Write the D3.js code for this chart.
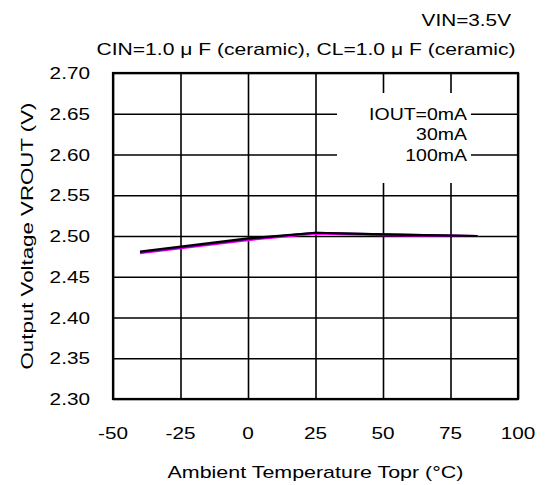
<!DOCTYPE html>
<html>
<head>
<meta charset="utf-8">
<script src="https://cdn.jsdelivr.net/npm/d3@7"></script>
<style>
  body { margin: 0; background: #fff; }
  text { font-family: "Liberation Sans", Arial, sans-serif; fill: #000; }
</style>
</head>
<body>
<div class="chart"></div>
<script>
// temperature points (°C)
var temps = [-40, 0, 25, 50, 85];
// output voltage per load current
var vout0 = [2.481, 2.497, 2.504, 2.502, 2.500];
var vout30 = [2.480, 2.496, 2.504, 2.502, 2.500];
var vout100 = [2.479, 2.495, 2.503, 2.501, 2.500];
var series = [
  { name: '100mA', values: vout100, color: '#ff00ff' },
  { name: '30mA', values: vout30, color: '#660099' },
  { name: 'IOUT=0mA', values: vout0, color: '#000000' }
];
var xTicks = [-50, -25, 0, 25, 50, 75, 100];
var yTicks = [2.30, 2.35, 2.40, 2.45, 2.50, 2.55, 2.60, 2.65, 2.70];
var legendLabels = ['IOUT=0mA', '30mA', '100mA'];

var W = 546, H = 485;
var m = { left: 113, right: 28, top: 73, bottom: 86 };

// the original lettering is wide, so stretch each text horizontally
function stretch(sel, k) {
  sel.each(function() {
    var w = this.getComputedTextLength();
    d3.select(this)
      .attr('textLength', w * k)
      .attr('lengthAdjust', 'spacingAndGlyphs');
  });
}

var svg = d3.select('.chart')
  .append('svg')
    .attr('width', W)
    .attr('height', H);

var x = d3.scaleLinear().domain([-50, 100]).range([m.left, W - m.right]);
var y = d3.scaleLinear().domain([2.30, 2.70]).range([H - m.bottom, m.top]);

// grid lines, drawn through the axes with full-length ticks
svg.append('g')
  .attr('transform', 'translate(0,' + (H - m.bottom) + ')')
  .call(d3.axisBottom(x).tickValues(xTicks).tickSize(-(H - m.bottom - m.top)).tickFormat(''));
svg.append('g')
  .attr('transform', 'translate(' + m.left + ',0)')
  .call(d3.axisLeft(y).tickValues(yTicks).tickSize(-(W - m.right - m.left)).tickFormat(''));
svg.selectAll('.domain').remove();
svg.selectAll('.tick line').attr('stroke', '#000').attr('stroke-width', 1.6);

// white legend box hides the grid behind the labels
svg.append('rect')
  .attr('x', 337).attr('y', 93)
  .attr('width', 134).attr('height', 90)
  .attr('fill', '#fff');

// plot border
svg.append('rect')
  .attr('x', m.left).attr('y', m.top)
  .attr('width', W - m.right - m.left).attr('height', H - m.bottom - m.top)
  .attr('fill', 'none').attr('stroke', '#000').attr('stroke-width', 2.2);

// tick labels
svg.append('g').selectAll('text')
  .data(xTicks)
  .enter()
    .append('text')
    .attr('x', d => x(d))
    .attr('y', H - m.bottom + 40)
    .attr('text-anchor', 'middle')
    .style('font-size', '17px')
    .text(d => d)
    .call(stretch, 1.22);

svg.append('g').selectAll('text')
  .data(yTicks)
  .enter()
    .append('text')
    .attr('x', 90)
    .attr('y', d => y(d) + 6)
    .attr('text-anchor', 'end')
    .style('font-size', '17px')
    .text(d => d.toFixed(2))
    .call(stretch, 1.22);

// data lines
var line = d3.line()
  .x((d, i) => x(temps[i]))
  .y(d => y(d));

svg.append('g').selectAll('path')
  .data(series)
  .enter()
    .append('path')
    .attr('d', d => line(d.values))
    .attr('fill', 'none')
    .attr('stroke', d => d.color)
    .attr('stroke-width', 2.2);

// legend labels
var legendY = [y(2.65), (y(2.65) + y(2.60)) / 2, y(2.60)];
svg.append('g').selectAll('text')
  .data(legendLabels)
  .enter()
    .append('text')
    .attr('x', 467)
    .attr('y', (d, i) => legendY[i] + 6)
    .attr('text-anchor', 'end')
    .style('font-size', '16.5px')
    .text(d => d)
    .call(stretch, 1.18);

// titles
svg.append('text')
  .attr('x', 511).attr('y', 26)
  .attr('text-anchor', 'end')
  .style('font-size', '17px')
  .text('VIN=3.5V')
  .call(stretch, 1.22);

svg.append('text')
  .attr('x', 306).attr('y', 55)
  .attr('text-anchor', 'middle')
  .style('font-size', '17px')
  .text('CIN=1.0 μ F (ceramic), CL=1.0 μ F (ceramic)')
  .call(stretch, 1.24);

svg.append('text')
  .attr('x', x(25)).attr('y', 478)
  .attr('text-anchor', 'middle')
  .style('font-size', '17px')
  .text('Ambient Temperature Topr (°C)')
  .call(stretch, 1.26);

svg.append('text')
  .attr('transform', 'translate(33,' + y(2.50) + ') rotate(-90)')
  .attr('text-anchor', 'middle')
  .style('font-size', '17px')
  .text('Output Voltage VROUT (V)')
  .call(stretch, 1.31);
</script>
</body>
</html>
